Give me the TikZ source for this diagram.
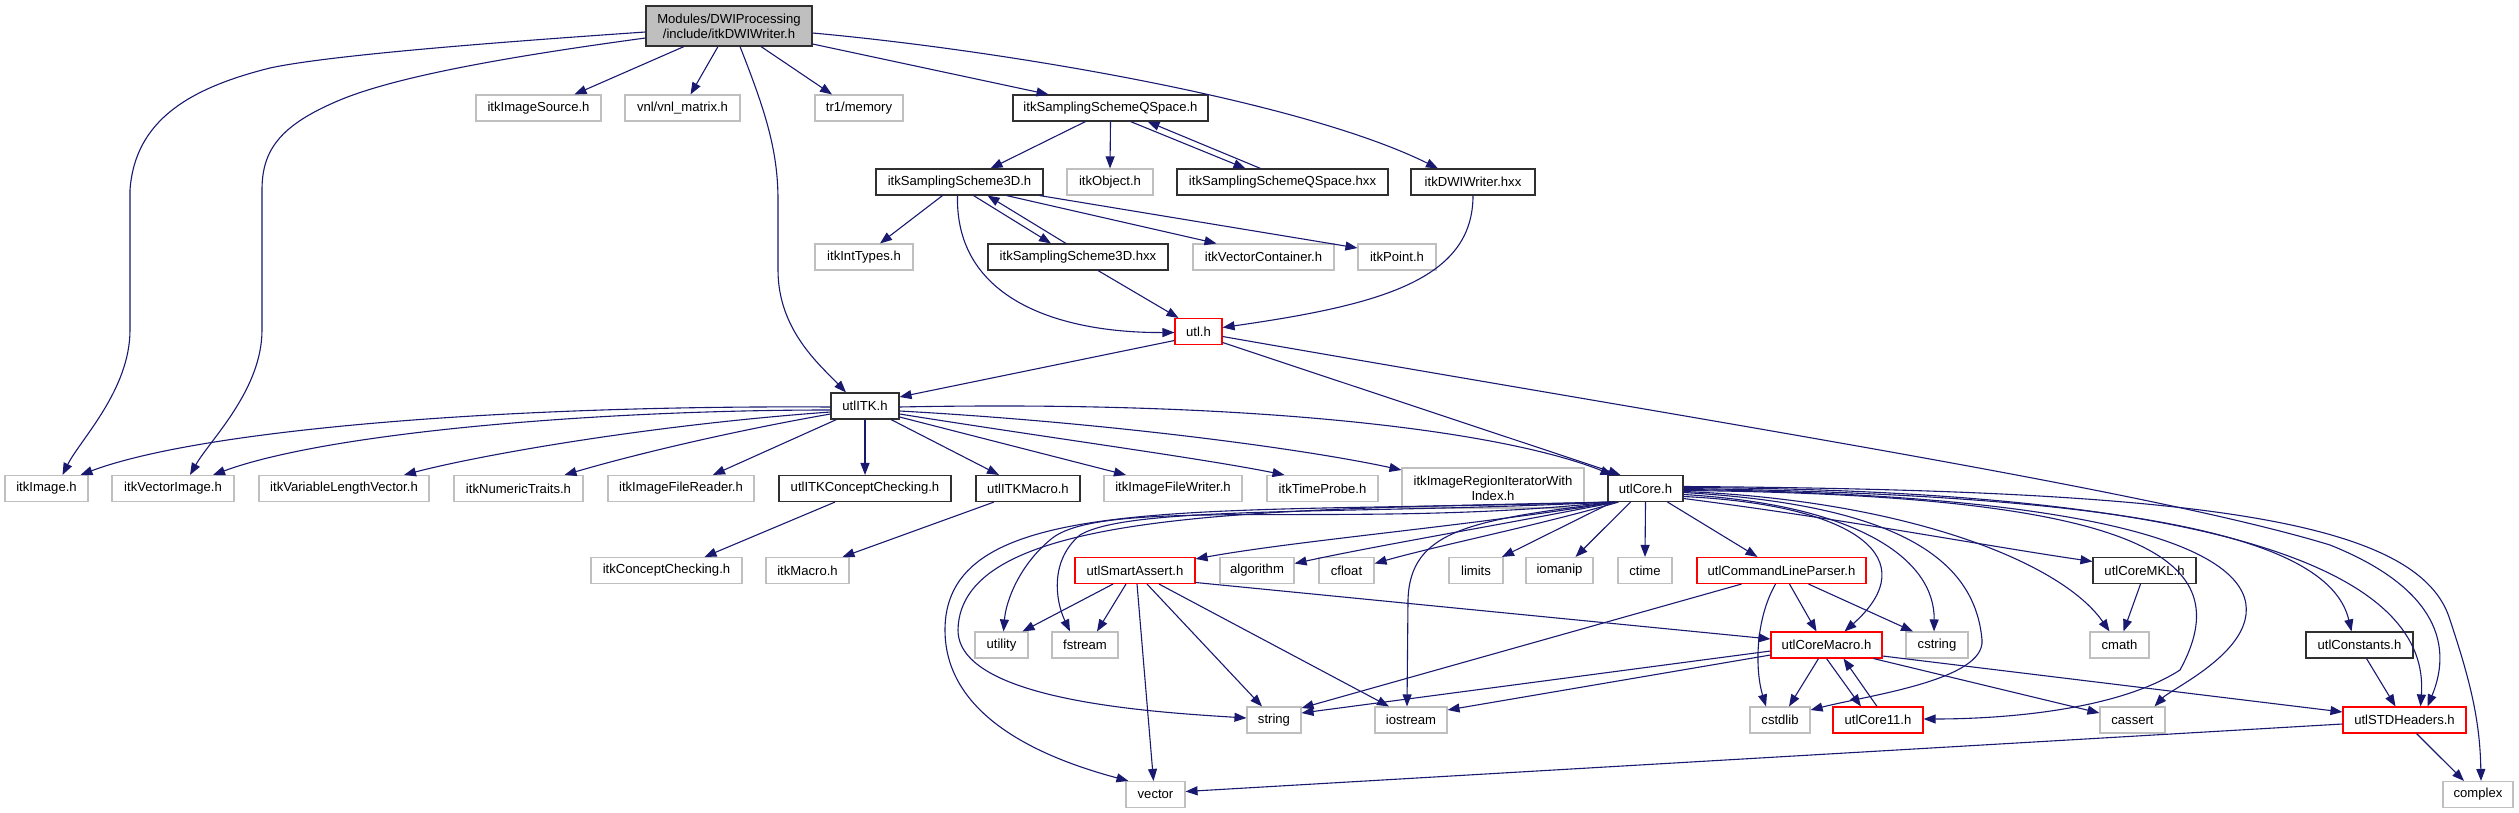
\documentclass[tikz,border=0pt]{standalone}
\usepackage{fontspec}
\setmainfont{Liberation Sans}
\usetikzlibrary{arrows.meta,calc}
\definecolor{edgeblue}{HTML}{191970}
\definecolor{extgray}{HTML}{BFBFBF}
\definecolor{mainfill}{HTML}{BFBFBF}
\definecolor{docborder}{HTML}{303030}
\begin{document}
\begin{tikzpicture}[x=1pt,y=-1pt,
  box/.style={draw, line width=1.1pt, inner sep=0pt, font=\fontsize{13.1}{15}\selectfont, align=center, minimum height=26pt},
  ext/.style={box, draw=extgray},
  doc/.style={box, draw=docborder},
  bad/.style={box, draw=red},
  topnode/.style={box, draw=docborder, fill=mainfill},
  dep/.style={draw=edgeblue, line width=1.1pt, -{Triangle[length=12pt,width=9pt]}}]
\useasboundingbox (0,0) rectangle (2519,813);
% row 0-4
\node[topnode, minimum width=166pt, minimum height=40pt] (main) at (729,26) {Modules/DWIProcessing\\/include/itkDWIWriter.h};
\node[ext, minimum width=125pt] (isrc) at (538.5,108) {itkImageSource.h};
\node[ext, minimum width=115pt] (vnl) at (682.5,108) {vnl/vnl\_matrix.h};
\node[ext, minimum width=88pt] (tr1) at (859,108) {tr1/memory};
\node[doc, minimum width=195pt] (qsh) at (1110.5,108) {itkSamplingSchemeQSpace.h};
\node[doc, minimum width=167pt] (s3d) at (959.5,182) {itkSamplingScheme3D.h};
\node[ext, minimum width=86pt] (obj) at (1110,182) {itkObject.h};
\node[doc, minimum width=211pt] (qsx) at (1282.5,182) {itkSamplingSchemeQSpace.hxx};
\node[doc, minimum width=124pt] (dwx) at (1473,182) {itkDWIWriter.hxx};
\node[ext, minimum width=98pt] (intt) at (864,257) {itkIntTypes.h};
\node[doc, minimum width=180pt] (s3x) at (1078,257) {itkSamplingScheme3D.hxx};
\node[ext, minimum width=141pt] (vc) at (1263.5,257) {itkVectorContainer.h};
\node[ext, minimum width=78pt] (pt) at (1397,257) {itkPoint.h};
\node[bad, minimum width=47pt] (utl) at (1198.5,331.5) {utl.h};
\node[doc, minimum width=68pt] (uitk) at (865,406) {utlITK.h};
% row 5
\node[ext, minimum width=83pt] (img) at (46.5,488.5) {itkImage.h};
\node[ext, minimum width=122pt] (vimg) at (173,488.5) {itkVectorImage.h};
\node[ext, minimum width=170pt] (vlv) at (344,488.5) {itkVariableLengthVector.h};
\node[ext, minimum width=129pt] (nt) at (518.5,488.5) {itkNumericTraits.h};
\node[ext, minimum width=146pt] (ifr) at (681,488.5) {itkImageFileReader.h};
\node[doc, minimum width=172pt] (ucc) at (865,488.5) {utlITKConceptChecking.h};
\node[doc, minimum width=104pt] (umac) at (1028,488.5) {utlITKMacro.h};
\node[ext, minimum width=138pt] (ifw) at (1173,488.5) {itkImageFileWriter.h};
\node[ext, minimum width=111pt] (tp) at (1322.5,488.5) {itkTimeProbe.h};
\node[ext, minimum width=182pt, minimum height=40pt] (rit) at (1493,488) {itkImageRegionIteratorWith\\Index.h};
\node[doc, minimum width=75pt] (core) at (1645.5,488.5) {utlCore.h};
% row 6
\node[ext, minimum width=151pt] (icc) at (666.5,570.5) {itkConceptChecking.h};
\node[ext, minimum width=83pt] (imac) at (807.5,570.5) {itkMacro.h};
\node[bad, minimum width=120pt] (sa) at (1135,570.5) {utlSmartAssert.h};
\node[ext, minimum width=74pt] (alg) at (1257,570.5) {algorithm};
\node[ext, minimum width=55pt] (cfl) at (1346.5,570.5) {cfloat};
\node[ext, minimum width=54pt] (lim) at (1476,570.5) {limits};
\node[ext, minimum width=67pt] (ioman) at (1559.5,570.5) {iomanip};
\node[ext, minimum width=54pt] (ctime) at (1645,570.5) {ctime};
\node[bad, minimum width=169pt] (clp) at (1781.5,570.5) {utlCommandLineParser.h};
\node[doc, minimum width=103pt] (mkl) at (2144.5,570.5) {utlCoreMKL.h};
% row 7
\node[ext, minimum width=53pt] (util) at (1001.5,645) {utility};
\node[ext, minimum width=66pt] (fst) at (1085,645) {fstream};
\node[bad, minimum width=111pt] (cmac) at (1826.5,645) {utlCoreMacro.h};
\node[ext, minimum width=62pt] (cstr) at (1937,645) {cstring};
\node[ext, minimum width=59pt] (cmath) at (2119.5,645) {cmath};
\node[doc, minimum width=107pt] (const) at (2359.5,645) {utlConstants.h};
% row 8
\node[ext, minimum width=54pt] (str) at (1274,720) {string};
\node[ext, minimum width=72pt] (ios) at (1411,720) {iostream};
\node[ext, minimum width=60pt] (cstd) at (1780,720) {cstdlib};
\node[bad, minimum width=90pt] (c11) at (1878,720) {utlCore11.h};
\node[ext, minimum width=65pt] (cas) at (2132.5,720) {cassert};
\node[bad, minimum width=123pt] (stdh) at (2404.5,720) {utlSTDHeaders.h};
% row 9
\node[ext, minimum width=59pt] (vec) at (1155.5,794.5) {vector};
\node[ext, minimum width=70pt] (cplx) at (2478,794.5) {complex};

% ---- edges from main
\draw[dep] ($(main.west)+(0,6)$) .. controls (500,42) and (330,55) .. (270,68) .. controls (190,88) and (135,120) .. (130,190) -- (130,330) .. controls (130,390) and (80,440) .. ($(img.north)+(16,0)$);
\draw[dep] ($(main.west)+(0,12)$) .. controls (520,55) and (400,75) .. (340,100) .. controls (280,125) and (262,150) .. (262,190) -- (262,330) .. controls (262,390) and (210,440) .. ($(vimg.north)+(17,0)$);
\draw[dep] ($(main.south)+(-45,0)$) -- ($(isrc.north)+(36,0)$);
\draw[dep] ($(main.south)+(-11,0)$) -- ($(vnl.north)+(8,0)$);
\draw[dep] ($(main.south)+(11,0)$) .. controls (765,110) and (778,150) .. (778,200) -- (778,270) .. controls (778,330) and (820,365) .. ($(uitk.north)+(-19,0)$);
\draw[dep] ($(main.south)+(32,0)$) -- ($(tr1.north)+(-27,0)$);
\draw[dep] ($(main.east)+(0,18)$) -- ($(qsh.north)+(-62,0)$);
\draw[dep] ($(main.east)+(0,7)$) .. controls (1000,50) and (1300,100) .. ($(dwx.north)+(-35,0)$);
% ---- QSpace
\draw[dep] ($(qsh.south)+(-25,0)$) -- ($(s3d.north)+(31,0)$);
\draw[dep] (qsh.south) -- (obj.north);
\draw[dep] ($(qsh.south)+(20,0)$) -- ($(qsx.north)+(-37,0)$);
\draw[dep] ($(qsx.north)+(-22,0)$) -- ($(qsh.south)+(37,0)$);
% ---- 3D
\draw[dep] ($(s3d.south)+(-17,0)$) -- ($(intt.north)+(16,0)$);
\draw[dep] ($(s3d.south)+(-2,0)$) .. controls (955,300) and (1060,333) .. ($(utl.west)+(0,1)$);
\draw[dep] ($(s3d.south)+(14,0)$) -- ($(s3x.north)+(-27,0)$);
\draw[dep] ($(s3x.north)+(-12,0)$) -- ($(s3d.south)+(28,0)$);
\draw[dep] ($(s3d.south)+(47,0)$) -- ($(vc.north)+(-47,0)$);
\draw[dep] ($(s3d.south east)+(-4,0)$) -- ($(pt.west)+(0,-9)$);
\draw[dep] ($(s3x.south)+(20,0)$) -- ($(utl.north)+(-20,0)$);
\draw[dep] (dwx.south) .. controls (1473,280) and (1380,305) .. ($(utl.east)+(0,-4)$);
% ---- utl
\draw[dep] ($(utl.west)+(0,9)$) -- ($(uitk.east)+(0,-9)$);
\draw[dep] ($(utl.east)+(0,11)$) -- ($(core.north)+(-25,0)$);
\draw[dep] ($(utl.east)+(0,5)$) .. controls (1700,420) and (2150,490) .. (2330,545) .. controls (2430,585) and (2455,640) .. ($(stdh.north)+(23,0)$);
% ---- utlITK
\draw[dep] ($(uitk.west)+(0,1)$) .. controls (500,405) and (200,430) .. ($(img.north)+(34,0)$);
\draw[dep] ($(uitk.west)+(0,4)$) .. controls (600,410) and (330,432) .. ($(vimg.north)+(40,0)$);
\draw[dep] ($(uitk.west)+(0,6)$) .. controls (650,425) and (480,455) .. ($(vlv.north)+(60,0)$);
\draw[dep] ($(uitk.west)+(0,8)$) .. controls (750,428) and (650,450) .. ($(nt.north)+(46,0)$);
\draw[dep] ($(uitk.south west)+(6,0)$) -- ($(ifr.north)+(32,0)$);
\draw[dep] (uitk.south) -- (ucc.north);
\draw[dep] ($(uitk.south)+(26,0)$) -- ($(umac.north)+(-29,0)$);
\draw[dep] ($(uitk.east)+(0,11)$) -- ($(ifw.north)+(-47,0)$);
\draw[dep] ($(uitk.east)+(0,8)$) .. controls (1050,438) and (1200,458) .. ($(tp.north)+(-38,0)$);
\draw[dep] ($(uitk.east)+(0,5)$) .. controls (1100,422) and (1300,448) .. ($(rit.west)+(0,-18)$);
\draw[dep] ($(uitk.east)+(0,1)$) .. controls (1250,400) and (1500,430) .. ($(core.north)+(-33,0)$);
\draw[dep] ($(ucc.south)+(-30,0)$) -- ($(icc.north)+(38,0)$);
\draw[dep] ($(umac.south)+(-34,0)$) -- ($(imac.north)+(35,0)$);
% ---- utlCore, left side
\draw[dep] ($(core.south)+(-31,0)$) .. controls (1480,525) and (1300,540) .. ($(sa.north east)+(0,2)$);
\draw[dep] ($(core.south)+(-29,0)$) .. controls (1500,525) and (1380,545) .. ($(alg.east)+(0,-7)$);
\draw[dep] ($(core.south)+(-27,0)$) .. controls (1540,525) and (1440,545) .. ($(cfl.east)+(0,-7)$);
\draw[dep] ($(core.south)+(-33,0)$) -- ($(lim.north)+(26,0)$);
\draw[dep] ($(core.south)+(-15,0)$) -- ($(ioman.north)+(16,0)$);
\draw[dep] (core.south) -- (ctime.north);
\draw[dep] ($(core.south)+(22,0)$) -- ($(clp.north)+(-24,0)$);
\draw[dep] ($(core.south)+(-35,0)$) .. controls (1350,530) and (1100,495) .. (1050,540) .. controls (1020,565) and (1006,600) .. ($(util.north)+(2,0)$);
\draw[dep] ($(core.south)+(-35,0)$) .. controls (1350,515) and (1130,505) .. (1080,535) .. controls (1050,560) and (1055,600) .. ($(fst.north)+(-15,0)$);
\draw[dep] ($(core.south)+(-36,0)$) .. controls (1250,510) and (960,510) .. (958,630) .. controls (958,700) and (1150,712) .. ($(str.west)+(0,-2)$);
\draw[dep] ($(core.south)+(-36,0)$) .. controls (1200,515) and (945,490) .. (945,630) .. controls (945,720) and (1050,760) .. ($(vec.north)+(-27,0)$);
\draw[dep] ($(core.south)+(-30,0)$) .. controls (1470,520) and (1410,530) .. (1408,600) -- ($(ios.north)+(-4,0)$);
% ---- utlCore, right side
\draw[dep] ($(core.east)+(0,8)$) .. controls (1860,505) and (1925,560) .. ($(cmac.north)+(18,0)$);
\draw[dep] ($(core.east)+(0,6)$) .. controls (1860,505) and (1935,560) .. ($(cstr.north)+(-3,0)$);
\draw[dep] ($(core.east)+(0,4)$) .. controls (1900,505) and (1975,560) .. (1982,640) .. controls (1985,680) and (1870,695) .. ($(cstd.east)+(0,-10)$);
\draw[dep] ($(core.east)+(0,10)$) .. controls (1850,520) and (1980,545) .. ($(mkl.west)+(0,-9)$);
\draw[dep] ($(core.east)+(0,3)$) .. controls (1900,500) and (2060,560) .. ($(cmath.north)+(-10,0)$);
\draw[dep] ($(core.east)+(0,2)$) .. controls (2150,495) and (2240,560) .. (2180,670) .. controls (2110,715) and (1980,719) .. ($(c11.east)+(0,-1)$);
\draw[dep] ($(core.east)+(0,1)$) .. controls (2150,495) and (2260,560) .. (2245,620) .. controls (2235,660) and (2170,690) .. ($(cas.north)+(22,0)$);
\draw[dep] (core.east) .. controls (2150,495) and (2330,540) .. ($(const.north)+(-8,0)$);
\draw[dep] ($(core.east)+(0,-1)$) .. controls (2250,490) and (2430,580) .. ($(stdh.north)+(16,0)$);
\draw[dep] ($(core.east)+(0,-2)$) .. controls (2200,490) and (2420,520) .. (2450,620) .. controls (2470,680) and (2480,720) .. ($(cplx.north)+(3,0)$);
% ---- utlSmartAssert
\draw[dep] ($(sa.south)+(-22,0)$) -- ($(util.north)+(21,0)$);
\draw[dep] ($(sa.south)+(-9,0)$) -- ($(fst.north)+(12,0)$);
\draw[dep] ($(sa.south)+(2,0)$) -- ($(vec.north)+(-2,0)$);
\draw[dep] ($(sa.south)+(12,0)$) -- ($(str.north)+(-12,0)$);
\draw[dep] ($(sa.south)+(24,0)$) -- ($(ios.north)+(-22,0)$);
\draw[dep] ($(sa.east)+(0,12)$) -- ($(cmac.west)+(0,-6)$);
% ---- utlCommandLineParser
\draw[dep] ($(clp.south)+(-40,0)$) -- ($(str.east)+(0,-12)$);
\draw[dep] ($(clp.south)+(-6,0)$) .. controls (1755,620) and (1755,670) .. ($(cstd.north)+(-14,0)$);
\draw[dep] ($(clp.south)+(8,0)$) -- ($(cmac.north)+(-10,0)$);
\draw[dep] ($(clp.south)+(27,0)$) -- ($(cstr.north)+(-24,0)$);
% ---- utlCoreMacro
\draw[dep] ($(cmac.west)+(0,6)$) -- ($(str.east)+(0,-7)$);
\draw[dep] ($(cmac.west)+(0,10)$) -- ($(ios.east)+(0,-10)$);
\draw[dep] ($(cmac.south)+(-8,0)$) -- ($(cstd.north)+(9,0)$);
\draw[dep] (cmac.south) -- ($(c11.north)+(-17,0)$);
\draw[dep] ($(c11.north)+(-1,0)$) -- ($(cmac.south)+(17,0)$);
\draw[dep] ($(cmac.south)+(47,0)$) -- ($(cas.west)+(0,-7)$);
\draw[dep] ($(cmac.east)+(0,11)$) -- ($(stdh.west)+(0,-8)$);
% ---- others
\draw[dep] ($(mkl.south)+(-4,0)$) -- ($(cmath.north)+(4,0)$);
\draw[dep] ($(const.south)+(7,0)$) -- ($(stdh.north)+(-9,0)$);
\draw[dep] ($(stdh.west)+(0,4)$) -- ($(vec.east)+(0,-3)$);
\draw[dep] ($(stdh.south)+(12,0)$) -- ($(cplx.north)+(-14,0)$);
\end{tikzpicture}
\end{document}
